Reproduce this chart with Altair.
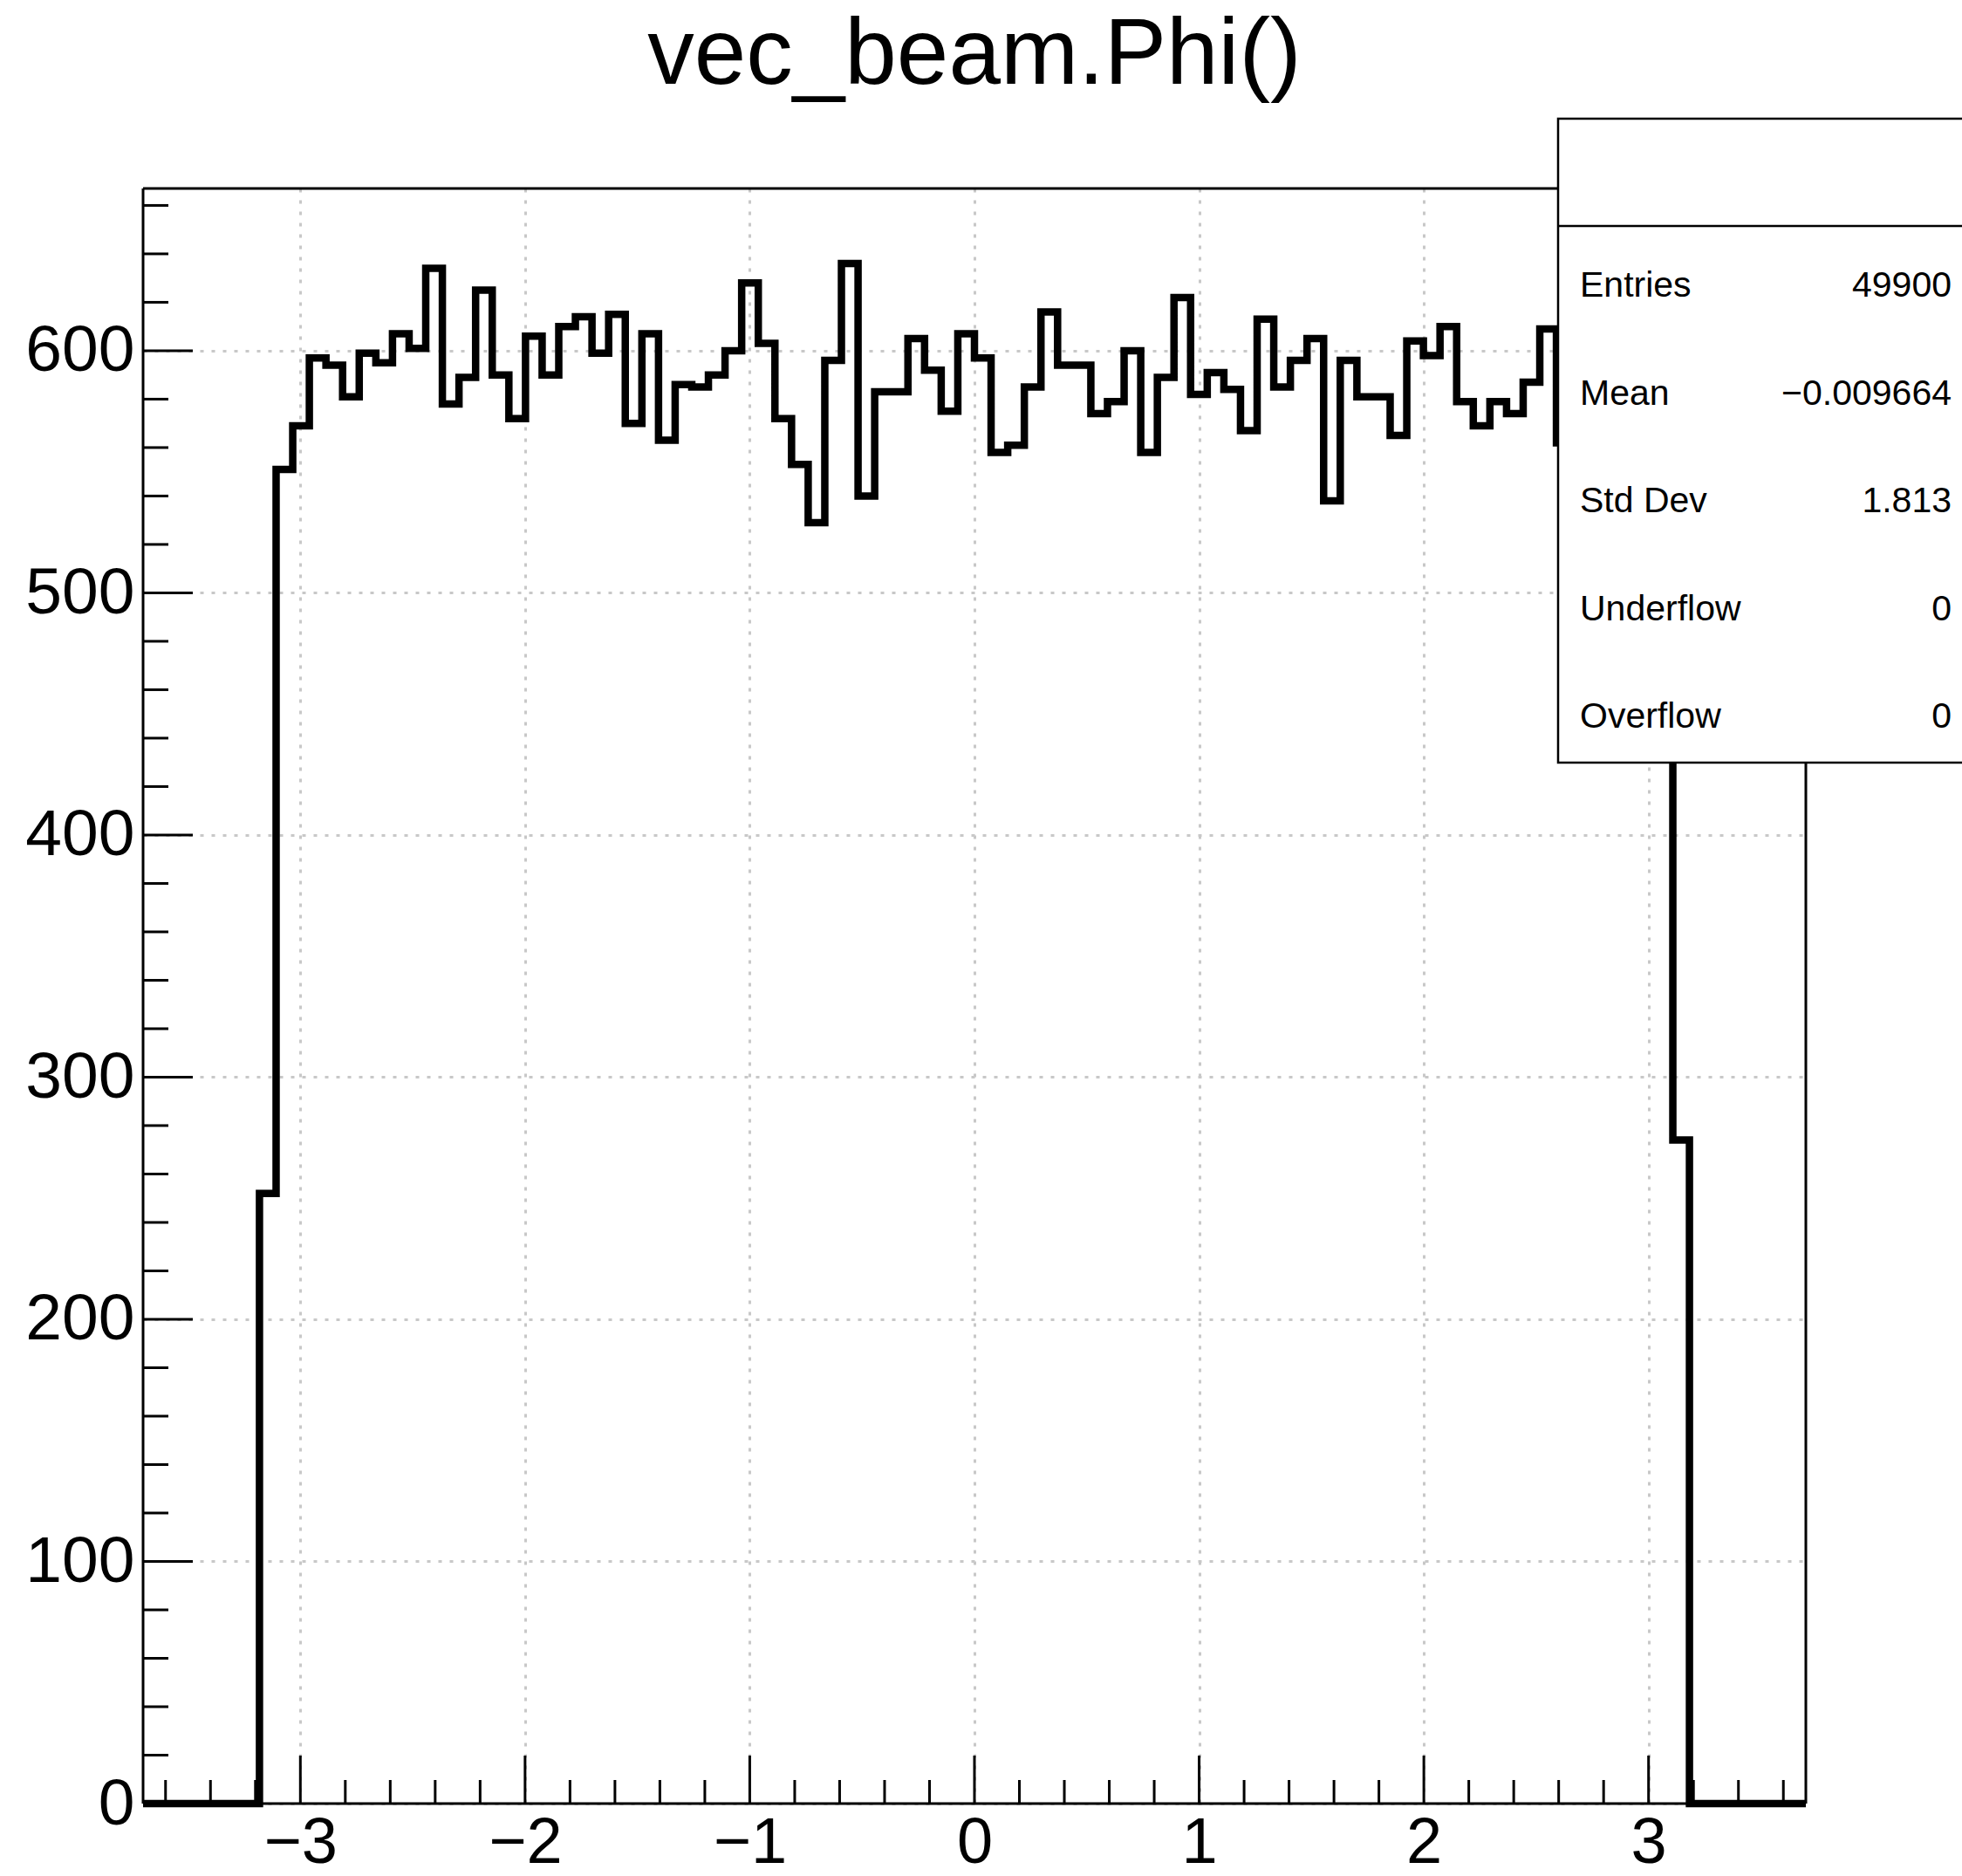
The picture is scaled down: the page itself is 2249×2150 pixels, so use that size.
import altair as alt
import pandas as pd

# ---------------- data ----------------
title_text = "vec_beam.Phi()"
x_min, x_max, n_bins = -3.7, 3.7, 100
counts = [0, 0, 0, 0, 0, 0, 0, 252, 551, 569,
          597, 594, 581, 599, 595, 607, 601, 634, 578, 589,
          625, 590, 572, 606, 590, 610, 614, 599, 615, 570,
          607, 563, 586, 585, 590, 600, 628, 603, 572, 553,
          529, 596, 636, 540, 583, 583, 605, 592, 575, 607,
          597, 558, 561, 585, 616, 594, 594, 574, 579, 600,
          558, 589, 622, 582, 591, 584, 567, 613, 585, 596,
          605, 538, 596, 581, 581, 565, 604, 598, 610, 579,
          569, 579, 574, 587, 609, 562, 583, 571, 590, 566,
          585, 578, 274, 0, 0, 0, 0, 0, 0, 0]
x_major_ticks = [-3, -2, -1, 0, 1, 2, 3]
x_minor_ticks = [round(-3.6 + 0.2 * i, 1) for i in range(37) if abs(round(-3.6 + 0.2 * i, 1) % 1) > 1e-9]
y_major_ticks = [0, 100, 200, 300, 400, 500, 600]
y_minor_ticks = [v for v in range(20, 661, 20) if v % 100 != 0]
y_top = 667
stat_names = ["Entries", "Mean", "Std Dev", "Underflow", "Overflow"]
stat_values = ["49900", "\u22120.009664", "1.813", "0", "0"]

# ---------------- layout ----------------
W, H = 1906, 1851
PAD_L, PAD_T = 164, 216
FONT = "Liberation Sans"

bin_w = (x_max - x_min) / n_bins
edges = [x_min + k * bin_w for k in range(n_bins)]
hist_df = pd.DataFrame({"x": edges + [x_max], "count": counts + [counts[-1]]})

xscale = alt.Scale(domain=[x_min, x_max], nice=False, zero=False)
yscale = alt.Scale(domain=[0, y_top], nice=False, zero=True)

x_axis = alt.Axis(
    values=x_major_ticks, format="d", grid=True, ticks=False, tickSize=0, domain=False,
    labelFont=FONT, labelFontSize=74, labelColor="black", labelPadding=9,
    gridDash=[4, 9], gridColor="#c8c8c8", gridWidth=3, title=None, labelFlush=False)
y_axis = alt.Axis(
    values=y_major_ticks, format="d", grid=True, ticks=False, tickSize=0, domain=False,
    labelFont=FONT, labelFontSize=75, labelColor="black", labelPadding=10,
    gridDash=[4, 9], gridColor="#c8c8c8", gridWidth=3, title=None, labelFlush=False)

one = pd.DataFrame({"a": [0]})

hist = alt.Chart(hist_df).mark_line(
    interpolate="step-after", color="black", strokeWidth=8.5, strokeJoin="miter"
).encode(
    x=alt.X("x:Q", scale=xscale, axis=x_axis),
    y=alt.Y("count:Q", scale=yscale, axis=y_axis),
)

def xticks(vals, length):
    return alt.Chart(pd.DataFrame({"x": vals})).mark_rule(color="black", strokeWidth=3).encode(
        x=alt.X("x:Q", scale=xscale, axis=x_axis),
        y=alt.value(H), y2=alt.value(H - length))

def yticks(vals, length):
    return alt.Chart(pd.DataFrame({"t": vals})).mark_rule(color="black", strokeWidth=3).encode(
        y=alt.Y("t:Q", scale=yscale, axis=None),
        x=alt.value(0), x2=alt.value(length))

frame = [
    alt.Chart(one).mark_rule(color="black", strokeWidth=3).encode(x=alt.value(0), x2=alt.value(W), y=alt.value(0)),
    alt.Chart(one).mark_rule(color="black", strokeWidth=3).encode(x=alt.value(0), x2=alt.value(W), y=alt.value(H)),
    alt.Chart(one).mark_rule(color="black", strokeWidth=3).encode(x=alt.value(0), y=alt.value(0), y2=alt.value(H)),
    alt.Chart(one).mark_rule(color="black", strokeWidth=3).encode(x=alt.value(W), y=alt.value(0), y2=alt.value(H)),
]

box = alt.Chart(one).mark_rect(fill="white", stroke="black", strokeWidth=2.5).encode(
    x=alt.value(1622), x2=alt.value(2110), y=alt.value(-80), y2=alt.value(658))
sep = alt.Chart(one).mark_rule(color="black", strokeWidth=2.5).encode(
    x=alt.value(1622), x2=alt.value(2110), y=alt.value(43))

stats_df = pd.DataFrame({"row": list(range(len(stat_names))), "name": stat_names, "val": stat_values})
row_scale = alt.Scale(domain=[0, 4], range=[124, 618])
stat_lab = alt.Chart(stats_df).mark_text(align="left", baseline="alphabetic", font=FONT, fontSize=41, color="black").encode(
    x=alt.value(1647), y=alt.Y("row:Q", scale=row_scale, axis=None), text="name:N")
stat_val = alt.Chart(stats_df).mark_text(align="right", baseline="alphabetic", font=FONT, fontSize=41, color="black").encode(
    x=alt.value(2073), y=alt.Y("row:Q", scale=row_scale, axis=None), text="val:N")

title = alt.Chart(pd.DataFrame({"t": [title_text]})).mark_text(
    align="center", baseline="alphabetic", font=FONT, fontSize=107, color="black").encode(
    x=alt.value(W / 2), y=alt.value(96 - PAD_T), text="t:N")

chart = alt.layer(
    hist,
    xticks(x_major_ticks, 55), xticks(x_minor_ticks, 27),
    yticks(y_major_ticks, 57), yticks(y_minor_ticks, 29),
    *frame, box, sep, stat_lab, stat_val, title,
).resolve_scale(y="independent").properties(
    width=W, height=H,
    padding={"left": PAD_L, "top": PAD_T, "right": 2249 - PAD_L - W, "bottom": 2150 - PAD_T - H},
    autosize=alt.AutoSizeParams(type="none"),
    background="white",
).configure_view(stroke="transparent")

chart.save("out.html", embed_options={"renderer": "svg", "actions": False})
